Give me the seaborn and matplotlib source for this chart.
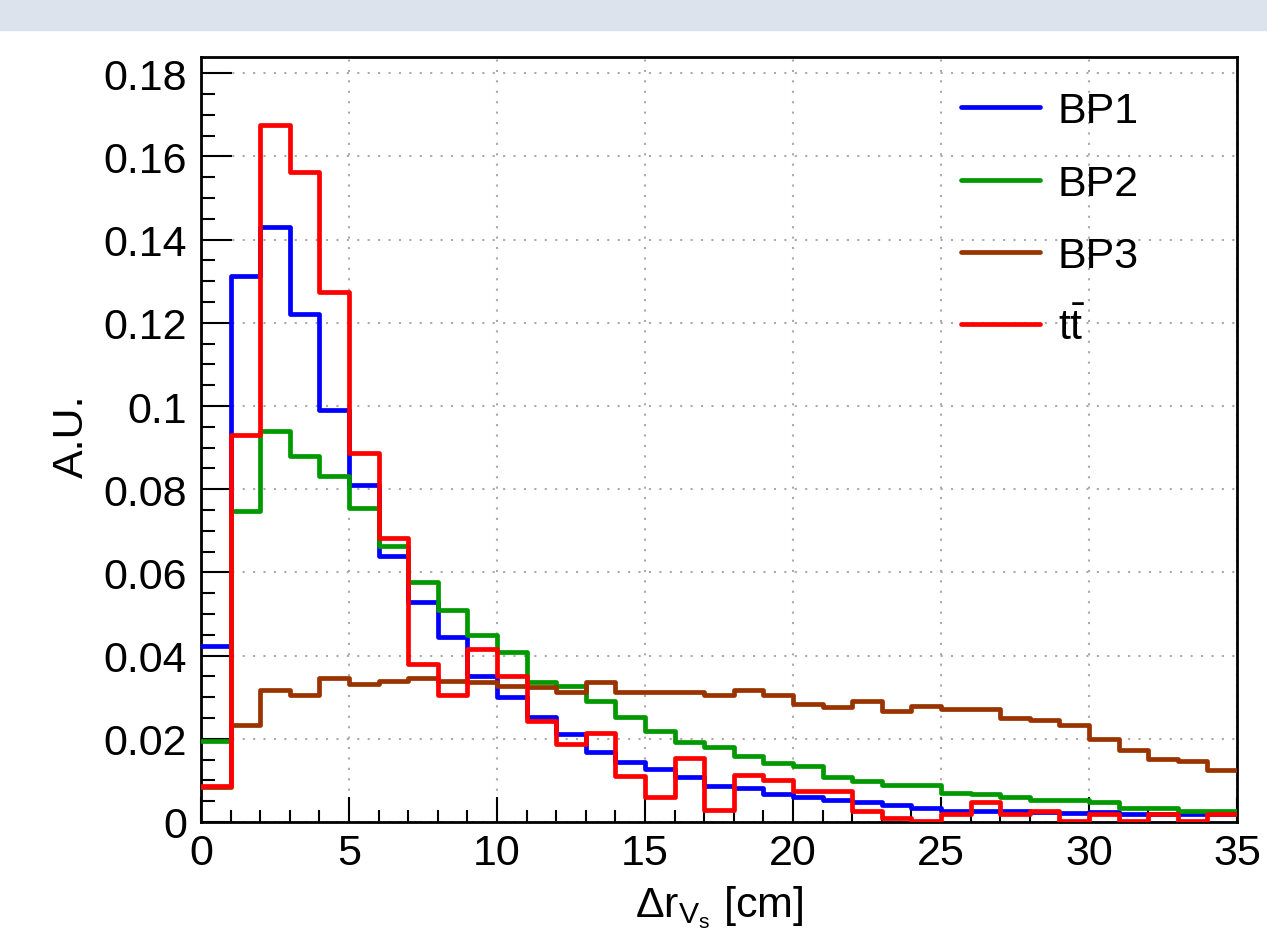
import numpy as np
import pandas as pd
import matplotlib
matplotlib.use("Agg")
import matplotlib.pyplot as plt
from matplotlib.patches import Rectangle
from matplotlib.ticker import MultipleLocator, FuncFormatter
import seaborn as sns

# ---- data (bin width 1 cm, 0..35) ----
bin_edges = list(range(0, 36))
series_names = ["BP1", "BP2", "BP3", "tt"]
legend_labels = ["BP1", "BP2", "BP3", r"t$\mathregular{\bar{t}}$"]
colors = ["#0000ff", "#009900", "#993300", "#ff0000"]

bp1 = [0.0423, 0.1313, 0.1431, 0.1222, 0.0991, 0.0811, 0.0639, 0.0530, 0.0444, 0.0350,
       0.0300, 0.0252, 0.0211, 0.0168, 0.0144, 0.0127, 0.0108, 0.0087, 0.0082, 0.0067,
       0.0061, 0.0053, 0.0048, 0.0041, 0.0033, 0.0027, 0.0026, 0.0026, 0.0023, 0.0022,
       0.0023, 0.0019, 0.0019, 0.0019, 0.0020]
bp2 = [0.0194, 0.0747, 0.0939, 0.0879, 0.0831, 0.0756, 0.0663, 0.0576, 0.0509, 0.0449,
       0.0409, 0.0337, 0.0326, 0.0291, 0.0252, 0.0219, 0.0193, 0.0180, 0.0159, 0.0141,
       0.0135, 0.0108, 0.0099, 0.0090, 0.0088, 0.0070, 0.0067, 0.0061, 0.0054, 0.0054,
       0.0048, 0.0034, 0.0034, 0.0027, 0.0027]
bp3 = [0.0085, 0.0233, 0.0318, 0.0305, 0.0345, 0.0331, 0.0339, 0.0345, 0.0339, 0.0336,
       0.0327, 0.0324, 0.0312, 0.0337, 0.0312, 0.0313, 0.0313, 0.0305, 0.0318, 0.0305,
       0.0283, 0.0276, 0.0291, 0.0267, 0.0278, 0.0271, 0.0271, 0.0251, 0.0246, 0.0233,
       0.0199, 0.0173, 0.0151, 0.0146, 0.0126]
ttbar = [0.0087, 0.0931, 0.1676, 0.1563, 0.1275, 0.0886, 0.0682, 0.0379, 0.0305, 0.0417,
         0.0351, 0.0243, 0.0187, 0.0214, 0.0111, 0.0060, 0.0154, 0.0029, 0.0114, 0.0101,
         0.0074, 0.0074, 0.0026, 0.0010, 0.0003, 0.0019, 0.0048, 0.0019, 0.0027, 0.0003,
         0.0019, 0.0003, 0.0019, 0.0003, 0.0020]

values = {"BP1": bp1, "BP2": bp2, "BP3": bp3, "tt": ttbar}

rows = []
for name in series_names:
    v = values[name]
    ys = v + [v[-1]]  # close the last step at the right edge
    for x, y in zip(bin_edges, ys):
        rows.append({"x": x, "y": y, "sample": name})
df = pd.DataFrame(rows)

# ---- style ----
sns.set_style("white")
plt.rcParams["font.family"] = ["Liberation Sans", "DejaVu Sans"]
plt.rcParams["mathtext.fontset"] = "custom"
plt.rcParams["mathtext.rm"] = "Liberation Sans"
plt.rcParams["mathtext.it"] = "Liberation Sans:italic"
for k in ["text.color", "axes.labelcolor", "xtick.color", "ytick.color"]:
    plt.rcParams[k] = "black"

FS = 31

fig = plt.figure(figsize=(12.67, 9.37), dpi=100)
fig.patches.append(Rectangle((0, 1 - 31 / 937), 1, 31 / 937, transform=fig.transFigure,
                             color="#dce3ec", zorder=0))
ax = fig.add_axes([201 / 1267, 1 - 823 / 937, (1237 - 201) / 1267, (823 - 58) / 937])

palette = dict(zip(series_names, colors))
sns.lineplot(data=df, x="x", y="y", hue="sample", palette=palette, hue_order=series_names,
             estimator=None, sort=False, drawstyle="steps-post", linewidth=3.4,
             ax=ax, legend=False, zorder=3)

ax.set_xlim(0, 35)
ax.set_ylim(0, 0.1839)

ax.xaxis.set_major_locator(MultipleLocator(5))
ax.xaxis.set_minor_locator(MultipleLocator(1))
ax.yaxis.set_major_locator(MultipleLocator(0.02))
ax.yaxis.set_minor_locator(MultipleLocator(0.005))
ax.yaxis.set_major_formatter(FuncFormatter(lambda v, p: "%g" % round(v, 3)))

ax.tick_params(axis="both", which="both", direction="in", labelsize=FS, width=1.5,
               color="black", bottom=True, left=True, top=False, right=False)
ax.tick_params(axis="y", which="major", length=22, pad=10)
ax.tick_params(axis="y", which="minor", length=10)
ax.tick_params(axis="x", which="major", length=18, pad=8)
ax.tick_params(axis="x", which="minor", length=9)

ax.grid(True, which="major", color="#aaaaaa", linestyle=(0, (1, 4)), linewidth=1.5, zorder=1)
for s in ax.spines.values():
    s.set_linewidth(2)
    s.set_color("black")

ax.set_xlabel(r"Δr$_{\mathregular{V_s}}$ [cm]", fontsize=FS, labelpad=7)
ax.set_ylabel("A.U.", fontsize=FS)
ax.yaxis.set_label_coords(-0.105, 0.505)

handles = [plt.Line2D([], [], color=c, linewidth=3.4) for c in colors]
ax.legend(handles, legend_labels, loc="upper left", bbox_to_anchor=(0.70, 1.0),
          frameon=False, fontsize=FS, handlelength=1.85, handletextpad=0.4,
          labelspacing=0.75, borderaxespad=0.4)

fig.savefig("out.png", dpi=100)
